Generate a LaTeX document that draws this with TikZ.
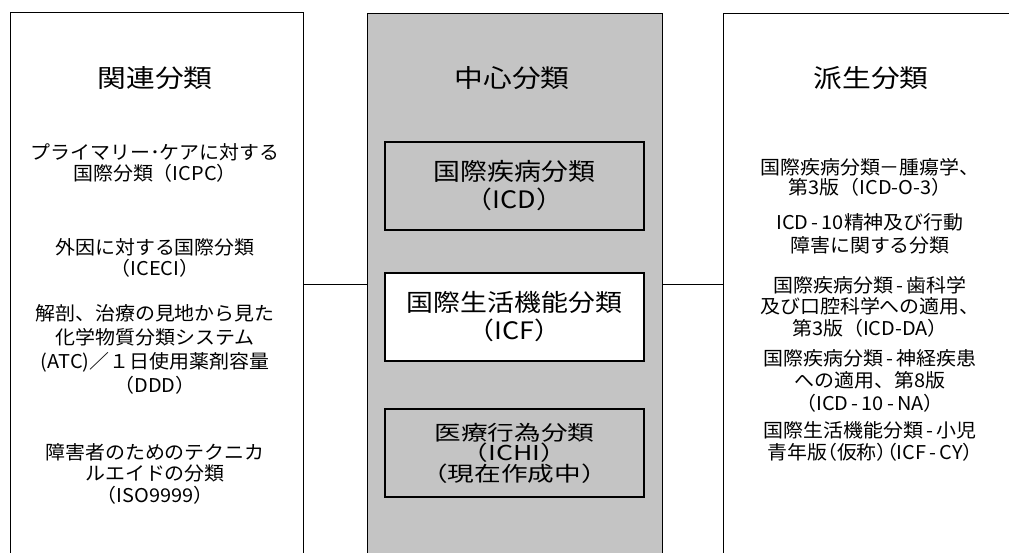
\documentclass[tikz,border=0pt]{standalone}
\usepackage{fontspec}
\setmainfont{Noto Sans CJK JP}
\newfontfamily\jpw[FakeStretch=1.15]{Noto Sans CJK JP}
\newfontfamily\jpc[FakeStretch=1.12]{Noto Sans CJK JP}
\newfontfamily\jpn[FakeStretch=1.3]{Noto Sans CJK JP}
\newfontfamily\jpb[FakeStretch=1.05]{Noto Sans CJK JP}
\newfontfamily\jpp[FakeStretch=1.05,RawFeature=+palt]{Noto Sans CJK JP}
\newcommand\tightlines{\lineskiplimit=-30pt\relax\lineskip=0pt\relax}
\definecolor{dotgray}{gray}{0.77}
\begin{document}
\begin{tikzpicture}[x=1pt,y=-1pt,
  outer/.style={draw, line width=1.3pt, anchor=north west, inner sep=0pt},
  innerbox/.style={draw, line width=1.8pt, minimum width=259pt, minimum height=88pt, inner sep=0pt, align=center},
  head/.style={inner sep=0pt, font=\jpw\fontsize{25}{28}\selectfont},
  ctext/.style={font=\jpc\fontsize{24}{28}\selectfont},
  item/.style={align=center, inner sep=0pt},
  conn/.style={line width=1.3pt}]
\useasboundingbox (0,0) rectangle (1009,553);
% outer boxes
\node[outer, minimum width=293pt, minimum height=544pt] (L) at (10,12) {};
\node[outer, fill=dotgray, minimum width=295pt, minimum height=542pt] (C) at (367,13) {};
\node[outer, minimum width=300pt, minimum height=542pt] (R) at (723,13) {};
% connectors
\draw[conn] (L.east) -- (C.west);
\draw[conn] (C.east) -- (R.west);
% headings
\node[head] (hL) at (155,78) {関連分類};
\node[head] (hC) at (512,78) {中心分類};
\node[head] (hR) at (871,78) {派生分類};
% center boxes
\node[innerbox, ctext, fill=dotgray] (icd) at (514.5,186) {国際疾病分類\\（ICD）};
\node[innerbox, ctext, fill=white] (icf) at (514.5,317) {国際生活機能分類\\（ICF）};
\node[innerbox, fill=dotgray, font=\jpn\fontsize{20.5}{20.5}\selectfont\tightlines] (ichi) at (514.5,453) {医療行為分類\\（ICHI）\\（現在作成中）};
% left items
\node[item, font=\jpb\fontsize{19}{21}\selectfont] (l1) at (155,162.5) {プライマリー･ケアに対する\\国際分類（ICPC）};
\node[item, font=\jpb\fontsize{19}{21}\selectfont] (l2) at (155,257.5) {外因に対する国際分類\\（ICECI）};
\node[item, font=\jpb\fontsize{19}{24}\selectfont] (l3) at (155,349) {解剖、治療の見地から見た\\化学物質分類システム\\(ATC)／１日使用薬剤容量\\（DDD）};
\node[item, font=\jpb\fontsize{19}{21.5}\selectfont] (l4) at (155,473.5) {障害者のためのテクニカ\\ルエイドの分類\\（ISO9999）};
% right items
\node[item, font=\jpb\fontsize{19}{20}\selectfont] (r1) at (870,177) {国際疾病分類－腫瘍学、\\第3版（ICD-O-3）};
\node[item, font=\jpb\fontsize{19}{23}\selectfont] (r2) at (870,233.5) {ICD\,-\,10精神及び行動\\障害に関する分類};
\node[item, font=\jpb\fontsize{19}{21.5}\selectfont] (r3) at (870,306.5) {国際疾病分類\,-\,歯科学\\及び口腔科学への適用、\\第3版（ICD-DA）};
\node[item, font=\jpb\fontsize{19}{22.5}\selectfont] (r4) at (870,380.5) {国際疾病分類\,-\,神経疾患\\への適用、第8版\\（ICD\,-\,10\,-\,NA）};
\node[item, font=\jpp\fontsize{19}{22}\selectfont] (r5) at (870,441) {国際生活機能分類\,-\,小児\\青年版（仮称）（ICF\,-\,CY）};
\end{tikzpicture}
\end{document}
